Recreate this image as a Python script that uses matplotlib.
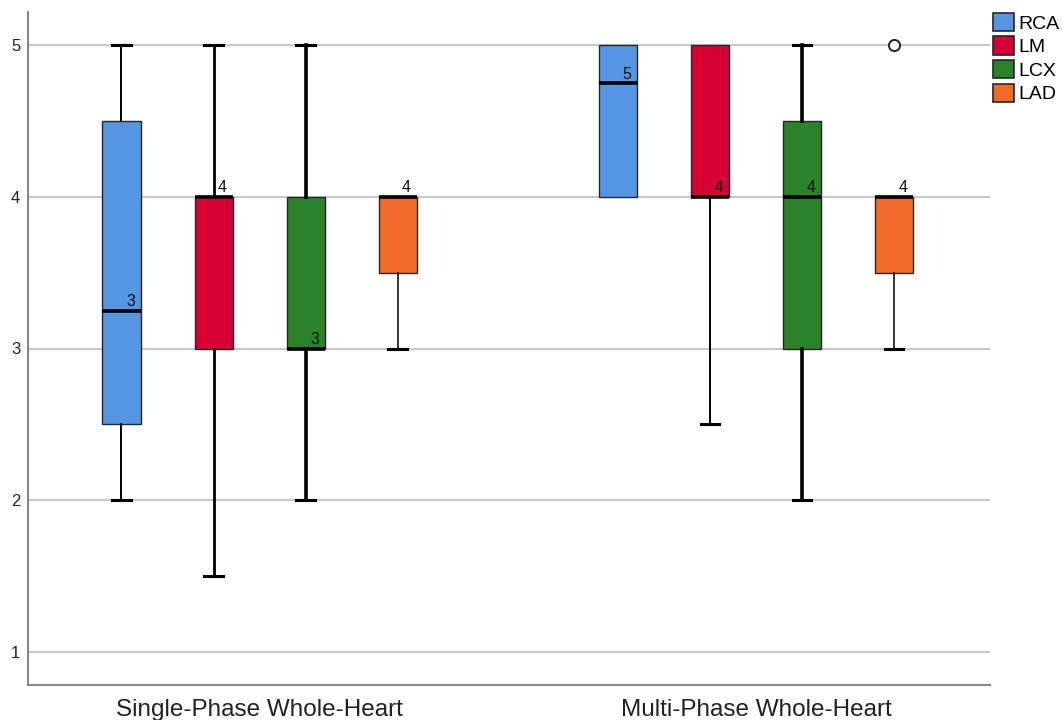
import matplotlib
matplotlib.use("Agg")
import matplotlib.pyplot as plt
from matplotlib.patches import Patch

groups = ["Single-Phase Whole-Heart", "Multi-Phase Whole-Heart"]
series = ["RCA", "LM", "LCX", "LAD"]
colors = ["#5596E2", "#D70034", "#2A8229", "#F26A2A"]

# per group, per series: whislo, q1, med, q3, whishi
whislo = [[2.0, 1.5, 2.0, 3.0], [4.0, 2.5, 2.0, 3.0]]
q1 = [[2.5, 3.0, 3.0, 3.5], [4.0, 4.0, 3.0, 3.5]]
med = [[3.25, 4.0, 3.0, 4.0], [4.75, 4.0, 4.0, 4.0]]
q3 = [[4.5, 4.0, 4.0, 4.0], [5.0, 5.0, 4.5, 4.0]]
whishi = [[5.0, 5.0, 5.0, 4.0], [5.0, 5.0, 5.0, 4.0]]
fliers = [[[], [], [], []], [[], [], [], [5.0]]]
med_labels = [["3", "4", "3", "4"], ["5", "4", "4", "4"]]

whisker_lw = [[1.4, 2.0, 2.6, 1.1], [1.0, 1.4, 2.6, 1.1]]

plt.rcParams['font.family'] = ['Liberation Sans', 'DejaVu Sans']

fig = plt.figure(figsize=(10.62, 7.2), dpi=100)
ax = fig.add_axes([28/1062, 1-685/720, (990-28)/1062, (685-12)/720])

off = 92/496.5
width = 38/496.5

for gi in range(len(groups)):
    for si in range(len(series)):
        pos = gi + (si - 1.5) * off
        stats = [dict(whislo=whislo[gi][si], q1=q1[gi][si], med=med[gi][si],
                      q3=q3[gi][si], whishi=whishi[gi][si], fliers=fliers[gi][si])]
        lw = whisker_lw[gi][si]
        art = ax.bxp(stats, positions=[pos], widths=width, patch_artist=True,
                     showcaps=True, manage_ticks=False,
                     boxprops=dict(facecolor=colors[si], edgecolor="#262626", linewidth=1.0),
                     medianprops=dict(color="black", linewidth=2.6),
                     whiskerprops=dict(color="black", linewidth=lw),
                     capprops=dict(color="black", linewidth=2.2),
                     capwidths=width * 0.48,
                     flierprops=dict(marker="o", markerfacecolor="white", markeredgecolor="#222222",
                                     markersize=8, markeredgewidth=1.4),
                     zorder=3)
        if whislo[gi][si] >= q1[gi][si]:
            art["caps"][0].set_visible(False)
            art["whiskers"][0].set_visible(False)
        if whishi[gi][si] <= q3[gi][si]:
            art["caps"][1].set_visible(False)
            art["whiskers"][1].set_visible(False)
        ax.annotate(med_labels[gi][si], xy=(pos + width / 2, med[gi][si]),
                    xytext=(-4, 1), textcoords="offset points", ha="right", va="bottom",
                    fontsize=11.5, color="#111111", zorder=5)

ax.set_xlim((28 - 259.5) / 496.5, (990 - 259.5) / 496.5)
ax.set_ylim(1 - 33 / 151.75, 5 + 33 / 151.75)
ax.set_yticks([1, 2, 3, 4, 5])
ax.set_xticks([0, 1])
ax.set_xticklabels(groups, fontsize=17.5, color="#222222")
ax.tick_params(axis="y", length=0, labelsize=12, labelcolor="#222222", pad=5.5)
ax.tick_params(axis="x", length=0, pad=10)
ax.yaxis.grid(True, color="#c8c8c8", linewidth=1.5, zorder=0)
ax.set_axisbelow(True)
for s in ["top", "right"]:
    ax.spines[s].set_visible(False)
for s in ["left", "bottom"]:
    ax.spines[s].set_color("#888888")
    ax.spines[s].set_linewidth(1.5)

handles = [Patch(facecolor=c, edgecolor="#262626", linewidth=1.2, label=l)
           for c, l in zip(colors, series)]
fig.legend(handles=handles, loc="upper left", bbox_to_anchor=(991/1062, 1 - 11/720),
           frameon=False, fontsize=14, handlelength=1.08, handleheight=1.05,
           handletextpad=0.22, labelspacing=0.2, borderaxespad=0, borderpad=0.1)

fig.savefig("out.png", dpi=100)
